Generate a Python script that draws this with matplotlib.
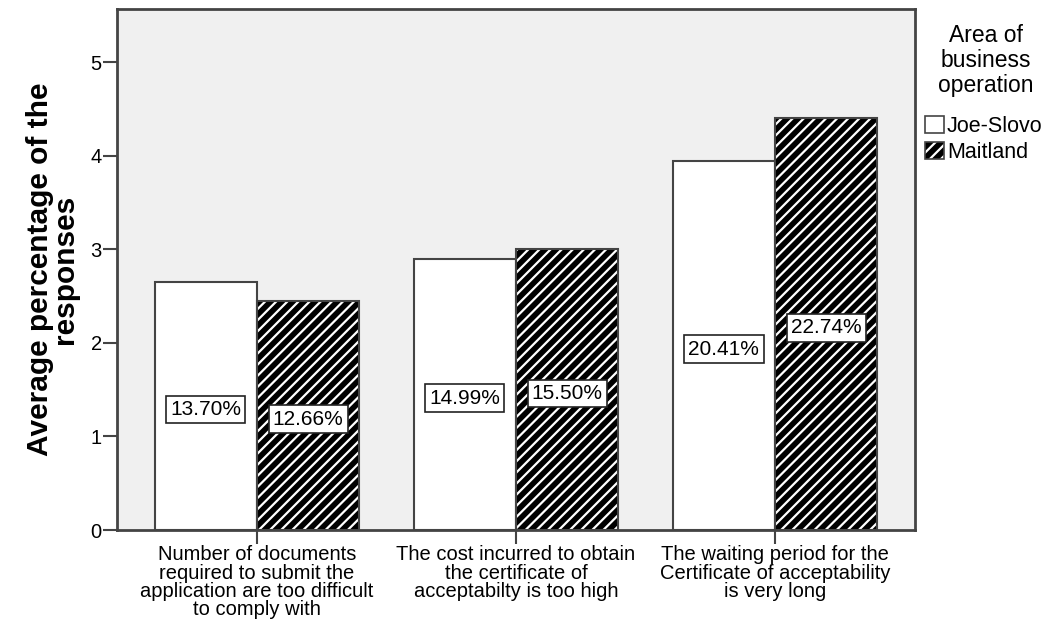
"""SPSS-style clustered bar chart: average percentage of responses by
area of business operation (Joe-Slovo vs Maitland)."""

import matplotlib

matplotlib.use("Agg")
import matplotlib.pyplot as plt  # noqa: E402
import numpy as np  # noqa: E402
from matplotlib.patches import Patch  # noqa: E402

categories = [
    "Number of documents\nrequired to submit the\napplication are too difficult\nto comply with",
    "The cost incurred to obtain\nthe certificate of\nacceptabilty is too high",
    "The waiting period for the\nCertificate of acceptability\nis very long",
]
areas = ["Joe-Slovo", "Maitland"]
joe_slovo = [2.65, 2.90, 3.95]
maitland = [2.45, 3.00, 4.40]
joe_slovo_pct = ["13.70%", "14.99%", "20.41%"]
maitland_pct = ["12.66%", "15.50%", "22.74%"]

EDGE = "#444444"
BG = "#F0F0F0"

plt.rcParams["font.family"] = ["Liberation Sans", "DejaVu Sans"]
plt.rcParams["hatch.linewidth"] = 1.6

fig = plt.figure(figsize=(10.48, 6.32), dpi=100)
ax = fig.add_axes([117 / 1048, 1 - 530 / 632, (915 - 117) / 1048, (530 - 9) / 632])
ax.set_facecolor(BG)

x = np.arange(len(categories))
w = 0.395

# Joe-Slovo: plain white bars
ax.bar(x - w / 2, joe_slovo, width=w, color="white", edgecolor=EDGE, linewidth=1.5, zorder=3)
# Maitland: black with white diagonal stripes, then an outline pass on top
ax.bar(x + w / 2, maitland, width=w, color="black", edgecolor="white", hatch="///",
       linewidth=0, zorder=3)
ax.bar(x + w / 2, maitland, width=w, fill=False, edgecolor=EDGE, linewidth=1.5, zorder=4)

box = dict(boxstyle="square,pad=0.2", facecolor="white", edgecolor="#222222", linewidth=1.2)
for i in range(len(categories)):
    ax.text(x[i] - w / 2, joe_slovo[i] / 2 - 0.04, joe_slovo_pct[i], ha="center", va="center",
            fontsize=15, bbox=box, zorder=5)
    ax.text(x[i] + w / 2, maitland[i] / 2 - 0.04, maitland_pct[i], ha="center", va="center",
            fontsize=15, bbox=box, zorder=5)

ax.set_xlim(-0.54, 2.54)
ax.set_ylim(0, 5.57)
ax.set_yticks(range(6))
ax.set_xticks(x)
ax.set_xticklabels(categories, fontsize=14.5, linespacing=0.95)
ax.tick_params(axis="y", labelsize=14.5, length=10, width=1.5, color=EDGE, pad=1)
ax.tick_params(axis="x", length=10, width=1.5, color=EDGE, pad=1)
for spine in ax.spines.values():
    spine.set_color(EDGE)
    spine.set_linewidth(2)

ax.set_ylabel("Average percentage of the\nresponses", fontsize=21.5, fontweight="bold",
              linespacing=0.9, labelpad=8)

# legend title drawn on its own so the gap above the entries matches SPSS
fig.text(986 / 1048, 1 - 24 / 632, "Area of\nbusiness\noperation", ha="center", va="top",
         multialignment="center", fontsize=16.5, linespacing=1.12)
handles = [
    Patch(facecolor="white", edgecolor=EDGE, linewidth=1.2),
    (Patch(facecolor="black", edgecolor="white", hatch="///", linewidth=0),
     Patch(fill=False, edgecolor=EDGE, linewidth=1.2)),
]
fig.legend(handles, areas, loc="upper left", bbox_to_anchor=(921 / 1048, 1 - 112 / 632),
           frameon=False, fontsize=15.5, handlelength=0.85, handleheight=0.85,
           handletextpad=0.15, borderaxespad=0.0, borderpad=0.2, labelspacing=0.2)

fig.savefig("out.png", dpi=100)
